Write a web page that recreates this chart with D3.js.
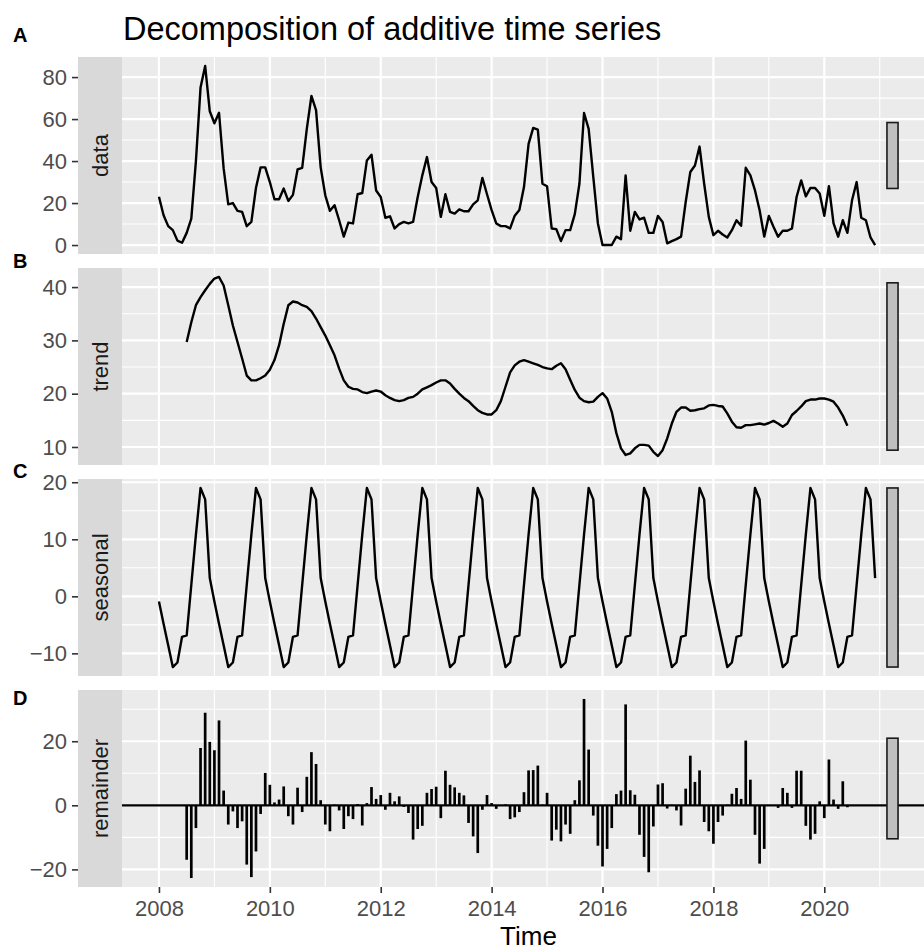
<!DOCTYPE html>
<html>
<head>
<meta charset="utf-8">
<script src="https://cdn.jsdelivr.net/npm/d3@7"></script>
<style>
  body { margin: 0; background: #ffffff; }
  svg { display: block; }
  text { font-family: "Liberation Sans", Arial, Helvetica, sans-serif; }
</style>
</head>
<body>
<svg id="chart" width="924" height="952"></svg>
<script>
// ---------------- DATA ----------------
const chartTitle = "Decomposition of additive time series";
const xAxisTitle = "Time";
const startYear = 2008;
const frequency = 12;
const panelNames = ["data", "trend", "seasonal", "remainder"];
const panelLetters = ["A", "B", "C", "D"];
const xTickValues = [2008, 2010, 2012, 2014, 2016, 2018, 2020];
const xTickLabels = ["2008", "2010", "2012", "2014", "2016", "2018", "2020"];

// observed monthly series, Jan 2008 - Dec 2020
const dataValues = [
  23, 14.2, 9, 7.1, 2.1, 1.1, 5.8, 12.6, 40, 75, 85.3, 63.7,
  58, 63, 36.5, 19.4, 20, 16.3, 15.8, 9, 11, 27.3, 37, 37,
  30, 21.8, 21.8, 26.9, 21, 23.9, 36, 36.8, 55.3, 71, 64.3, 37,
  23.7, 16.3, 19, 11.8, 4, 10.7, 10.3, 24.2, 24.8, 40.3, 43, 26,
  22.9, 13, 13.7, 7.9, 10, 11, 10.3, 11, 22.9, 33.2, 41.9, 30,
  27.2, 13.4, 24.2, 15.8, 15, 17, 16.1, 16.1, 19.4, 21.3, 32, 24.2,
  16.6, 10.3, 9, 9, 7.9, 14, 16.7, 27.6, 48.2, 55.8, 55, 29.2,
  28, 7.9, 7.6, 1.9, 7.1, 7.1, 14.7, 29.2, 62.9, 55.3, 32.5, 10.3,
  0, 0, 0, 4, 2.8, 33.2, 6.8, 15.8, 12.2, 13, 5.8, 5.8,
  13.9, 11, 0.8, 1.9, 2.8, 4, 20.5, 34.8, 37.9, 46.9, 29.2, 13.4,
  4.7, 6.8, 5, 3.6, 7.1, 11.8, 9.2, 36.8, 33.2, 26, 16.6, 4,
  13.9, 8.7, 4, 6.8, 6.8, 7.9, 22.9, 30.8, 23.2, 27.2, 27.2, 24.5,
  13.9, 28, 10.3, 4, 11.8, 5.8, 21.3, 30, 13, 11.8, 3.6, 0
];

// trend, Jul 2008 - Jun 2020 (month index 6 .. 149)
const trendStartIndex = 6;
const trendValues = [
  29.7, 33.4, 36.6, 38.1, 39.4, 40.6,
  41.6, 41.9, 40.3, 36.6, 32.8, 29.7, 26.6, 23.4, 22.5, 22.5, 22.9, 23.4,
  24.5, 26.3, 29.1, 33.1, 36.6, 37.3, 37.1, 36.6, 36.3, 35.5, 34.1, 32.5,
  30.9, 29.1, 27.2, 24.7, 22.5, 21.3, 20.9, 20.8, 20.3, 20.1, 20.4, 20.6,
  20.4, 19.7, 19.2, 18.8, 18.6, 18.8, 19.2, 19.4, 20.0, 20.8, 21.2, 21.6,
  22.1, 22.5, 22.5, 21.9, 20.9, 20.0, 19.2, 18.6, 17.7, 16.9, 16.4, 16.1,
  16.1, 16.9, 18.6, 21.3, 24.0, 25.3, 26.0, 26.3, 26.0, 25.7, 25.4, 25.0,
  24.75, 24.6, 25.25, 25.7, 24.6, 22.6, 20.7, 19.25, 18.6, 18.4, 18.5, 19.4,
  20.1, 19.1, 16.6, 12.6, 9.75, 8.5, 8.8, 9.75, 10.4, 10.4, 10.25, 9.1,
  8.3, 9.4, 11.6, 14.4, 16.6, 17.4, 17.4, 16.8, 16.9, 17.1, 17.25, 17.8,
  17.9, 17.7, 17.6, 16.3, 14.75, 13.7, 13.6, 14.1, 14.1, 14.25, 14.4, 14.2,
  14.5, 14.9, 14.4, 13.8, 14.4, 16.0, 16.75, 17.6, 18.6, 18.9, 18.9, 19.1,
  19.1, 18.9, 18.5, 17.4, 15.9, 14.0
];

// seasonal component, Jan 2008 - Dec 2020
const seasonalValues = [
  -0.9, -4.8, -8.6, -12.4, -11.6, -7.1, -6.85, 2.0, 10.8, 19.0, 17.0, 3.2,
  -0.9, -4.8, -8.6, -12.4, -11.6, -7.1, -6.85, 2.0, 10.8, 19.0, 17.0, 3.2,
  -0.9, -4.8, -8.6, -12.4, -11.6, -7.1, -6.85, 2.0, 10.8, 19.0, 17.0, 3.2,
  -0.9, -4.8, -8.6, -12.4, -11.6, -7.1, -6.85, 2.0, 10.8, 19.0, 17.0, 3.2,
  -0.9, -4.8, -8.6, -12.4, -11.6, -7.1, -6.85, 2.0, 10.8, 19.0, 17.0, 3.2,
  -0.9, -4.8, -8.6, -12.4, -11.6, -7.1, -6.85, 2.0, 10.8, 19.0, 17.0, 3.2,
  -0.9, -4.8, -8.6, -12.4, -11.6, -7.1, -6.85, 2.0, 10.8, 19.0, 17.0, 3.2,
  -0.9, -4.8, -8.6, -12.4, -11.6, -7.1, -6.85, 2.0, 10.8, 19.0, 17.0, 3.2,
  -0.9, -4.8, -8.6, -12.4, -11.6, -7.1, -6.85, 2.0, 10.8, 19.0, 17.0, 3.2,
  -0.9, -4.8, -8.6, -12.4, -11.6, -7.1, -6.85, 2.0, 10.8, 19.0, 17.0, 3.2,
  -0.9, -4.8, -8.6, -12.4, -11.6, -7.1, -6.85, 2.0, 10.8, 19.0, 17.0, 3.2,
  -0.9, -4.8, -8.6, -12.4, -11.6, -7.1, -6.85, 2.0, 10.8, 19.0, 17.0, 3.2,
  -0.9, -4.8, -8.6, -12.4, -11.6, -7.1, -6.85, 2.0, 10.8, 19.0, 17.0, 3.2
];

// remainder, Jul 2008 - Jun 2020 (month index 6 .. 149)
const remainderStartIndex = 6;
const remainderValues = [
  -17, -22.7, -7.1, 17.9, 28.9, 19.8,
  17.2, 26.5, 4.6, -6, -1.9, -7.1, -5, -18.5, -22.4, -14.4, -2.7, 10.1,
  6.4, 0.9, 1.8, 5.9, -3.4, -6, 5.5, -2.1, 8.9, 16.6, 12.9, 1.6,
  -6, -8.1, 0.2, -1.6, -7.4, -3.4, -4.3, 0.4, -6.3, 0.7, 5.7, 2,
  3.2, -1.4, 3.9, 1.25, 2.8, -0.5, -2.4, -10.7, -7.4, -6.4, 3.9, 5.1,
  5.8, -4, 10.8, 6.4, 5.6, 3.9, 3.1, -5.5, -9.7, -14.9, -1.4, 3.2,
  0.7, -1.1, -0.1, 0.3, -4.3, -3.75, -2.1, 4.1, 10.9, 11, 12.4, 0.2,
  3.9, -11, -7.6, -11.25, -6, -8.9, 1.6, 7.8, 33.2, 17.4, -3.2, -12.6,
  -19.1, -13.6, -7.1, 3.5, 4.6, 31.5, 4.7, 3.3, -9.2, -16.1, -20.9, -6.6,
  6.5, 6.9, -1, 0.2, -1.6, -6.3, 5.2, 15.5, 7.3, 10.9, -5.2, -8.1,
  -12, -5.2, -3.2, 0.2, 3.6, 5.4, 2, 20.2, 8, -9.2, -18.2, -13.6,
  0.1, -0.1, -0.8, 5.4, 3.9, -0.8, 10.8, 10.8, -6.4, -10.7, -8.9, 1.25,
  -4, 14.3, 1.8, -1.1, 7.5, -0.6
];

// y-axis ticks per panel
const dataTicks = [0, 20, 40, 60, 80];
const trendTicks = [10, 20, 30, 40];
const seasonalTicks = [-10, 0, 10, 20];
const remainderTicks = [-20, 0, 20];
const dataTickLabels = ["0", "20", "40", "60", "80"];
const trendTickLabels = ["10", "20", "30", "40"];
const seasonalTickLabels = ["\u221210", "0", "10", "20"];
const remainderTickLabels = ["\u221220", "0", "20"];

// ---------------- LAYOUT ----------------
const W = 924, H = 952;
const panelTops = [57, 268, 479, 690];
const panelH = 197;
const stripX0 = 78, panelX0 = 122, panelX1 = 935;
const barX0 = 2021.13, barX1 = 2021.33;   // range-bar position (time units)
const letterBaselines = [42, 268, 478, 705];

const svg = d3.select("#chart");

const timeOf = i => startYear + i / frequency;
const series = [
  dataValues.map((v, i) => ({ t: timeOf(i), v })),
  trendValues.map((v, i) => ({ t: timeOf(i + trendStartIndex), v })),
  seasonalValues.map((v, i) => ({ t: timeOf(i), v })),
  remainderValues.map((v, i) => ({ t: timeOf(i + remainderStartIndex), v }))
];
const ticksList = [dataTicks, trendTicks, seasonalTicks, remainderTicks];
const tickLabelList = [dataTickLabels, trendTickLabels, seasonalTickLabels, remainderTickLabels];

const xMin = startYear, xMax = barX1;
const xSpan = xMax - xMin;
const x = d3.scaleLinear()
  .domain([xMin - 0.05 * xSpan, xMax + 0.05 * xSpan])
  .range([panelX0, panelX1]);

const ranges = series.map(s => d3.extent(s, d => d.v));
const minRange = d3.min(ranges, r => r[1] - r[0]);

const majorX = xTickValues;
const minorX = d3.range(2007, 2023, 2).filter(t => t > x.domain()[0] && t < x.domain()[1]);

series.forEach((s, k) => {
  const top = panelTops[k];
  const [lo, hi] = ranges[k];
  const R = hi - lo;
  const y = d3.scaleLinear()
    .domain([lo - 0.05 * R, hi + 0.05 * R])
    .range([top + panelH, top]);
  const g = svg.append("g");

  // strip
  g.append("rect").attr("x", stripX0).attr("y", top)
    .attr("width", panelX0 - stripX0).attr("height", panelH).attr("fill", "#d9d9d9");
  g.append("text")
    .attr("transform", `translate(${108},${top + panelH / 2}) rotate(-90)`)
    .attr("text-anchor", "middle")
    .attr("font-size", 22).attr("fill", "#1a1a1a")
    .text(panelNames[k]);

  // panel background
  g.append("rect").attr("x", panelX0).attr("y", top)
    .attr("width", W - panelX0).attr("height", panelH).attr("fill", "#ebebeb");

  const ticks = ticksList[k];
  const step = ticks[1] - ticks[0];
  const dom = y.domain();
  const minorY = d3.range(ticks[0] - step / 2, ticks[ticks.length - 1] + step, step)
    .filter(v => v > dom[0] && v < dom[1]);

  const grid = g.append("g");
  grid.selectAll(".minY").data(minorY).join("line")
    .attr("x1", panelX0).attr("x2", W).attr("y1", d => y(d)).attr("y2", d => y(d))
    .attr("stroke", "#ffffff").attr("stroke-width", 1.1);
  grid.selectAll(".minX").data(minorX).join("line")
    .attr("x1", d => x(d)).attr("x2", d => x(d)).attr("y1", top).attr("y2", top + panelH)
    .attr("stroke", "#ffffff").attr("stroke-width", 1.1);
  grid.selectAll(".majY").data(ticks).join("line")
    .attr("x1", panelX0).attr("x2", W).attr("y1", d => y(d)).attr("y2", d => y(d))
    .attr("stroke", "#ffffff").attr("stroke-width", 2.2);
  grid.selectAll(".majX").data(majorX).join("line")
    .attr("x1", d => x(d)).attr("x2", d => x(d)).attr("y1", top).attr("y2", top + panelH)
    .attr("stroke", "#ffffff").attr("stroke-width", 2.2);

  // y axis
  const labels = tickLabelList[k];
  const ax = g.append("g").attr("transform", `translate(${stripX0},0)`)
    .call(d3.axisLeft(y).tickValues(ticks).tickSize(6).tickPadding(5)
      .tickFormat((d, i) => labels[i]));
  ax.select(".domain").remove();
  ax.selectAll("line").attr("stroke", "#333333").attr("stroke-width", 1.6);
  ax.selectAll("text").attr("font-size", 22).attr("fill", "#4d4d4d")
    .attr("font-family", "'Liberation Sans', Arial, Helvetica, sans-serif");

  // marks
  if (panelNames[k] === "remainder") {
    g.append("line").attr("x1", panelX0).attr("x2", W)
      .attr("y1", y(0)).attr("y2", y(0))
      .attr("stroke", "#000000").attr("stroke-width", 2.3);
    g.selectAll(".seg").data(s).join("line")
      .attr("x1", d => x(d.t)).attr("x2", d => x(d.t))
      .attr("y1", y(0)).attr("y2", d => y(d.v))
      .attr("stroke", "#000000").attr("stroke-width", 2.7);
  } else {
    g.append("path").datum(s)
      .attr("d", d3.line().x(d => x(d.t)).y(d => y(d.v)))
      .attr("fill", "none").attr("stroke", "#000000")
      .attr("stroke-width", 2.4).attr("stroke-linejoin", "round");
  }

  // range bar
  const mid = (lo + hi) / 2;
  g.append("rect")
    .attr("x", x(barX0)).attr("width", x(barX1) - x(barX0))
    .attr("y", y(mid + minRange / 2)).attr("height", y(mid - minRange / 2) - y(mid + minRange / 2))
    .attr("fill", "#bfbfbf").attr("stroke", "#1a1a1a").attr("stroke-width", 1.6);

  // panel letter
  svg.append("text").attr("x", 13).attr("y", letterBaselines[k])
    .attr("font-size", 20).attr("font-weight", "bold").attr("fill", "#000000")
    .text(panelLetters[k]);

  // x axis on last panel
  if (k === series.length - 1) {
    const xa = svg.append("g").attr("transform", `translate(0,${top + panelH})`)
      .call(d3.axisBottom(x).tickValues(xTickValues).tickSize(6).tickPadding(7)
        .tickFormat((d, i) => xTickLabels[i]));
    xa.select(".domain").remove();
    xa.selectAll("line").attr("stroke", "#333333").attr("stroke-width", 1.6);
    xa.selectAll("text").attr("font-size", 22).attr("fill", "#4d4d4d")
      .attr("font-family", "'Liberation Sans', Arial, Helvetica, sans-serif");
  }
});

// titles
svg.append("text").attr("x", 123).attr("y", 40)
  .attr("font-size", 32.5).attr("fill", "#000000").text(chartTitle);
svg.append("text").attr("x", (panelX0 + panelX1) / 2).attr("y", 945)
  .attr("text-anchor", "middle").attr("font-size", 26).attr("fill", "#000000").text(xAxisTitle);
</script>
</body>
</html>
